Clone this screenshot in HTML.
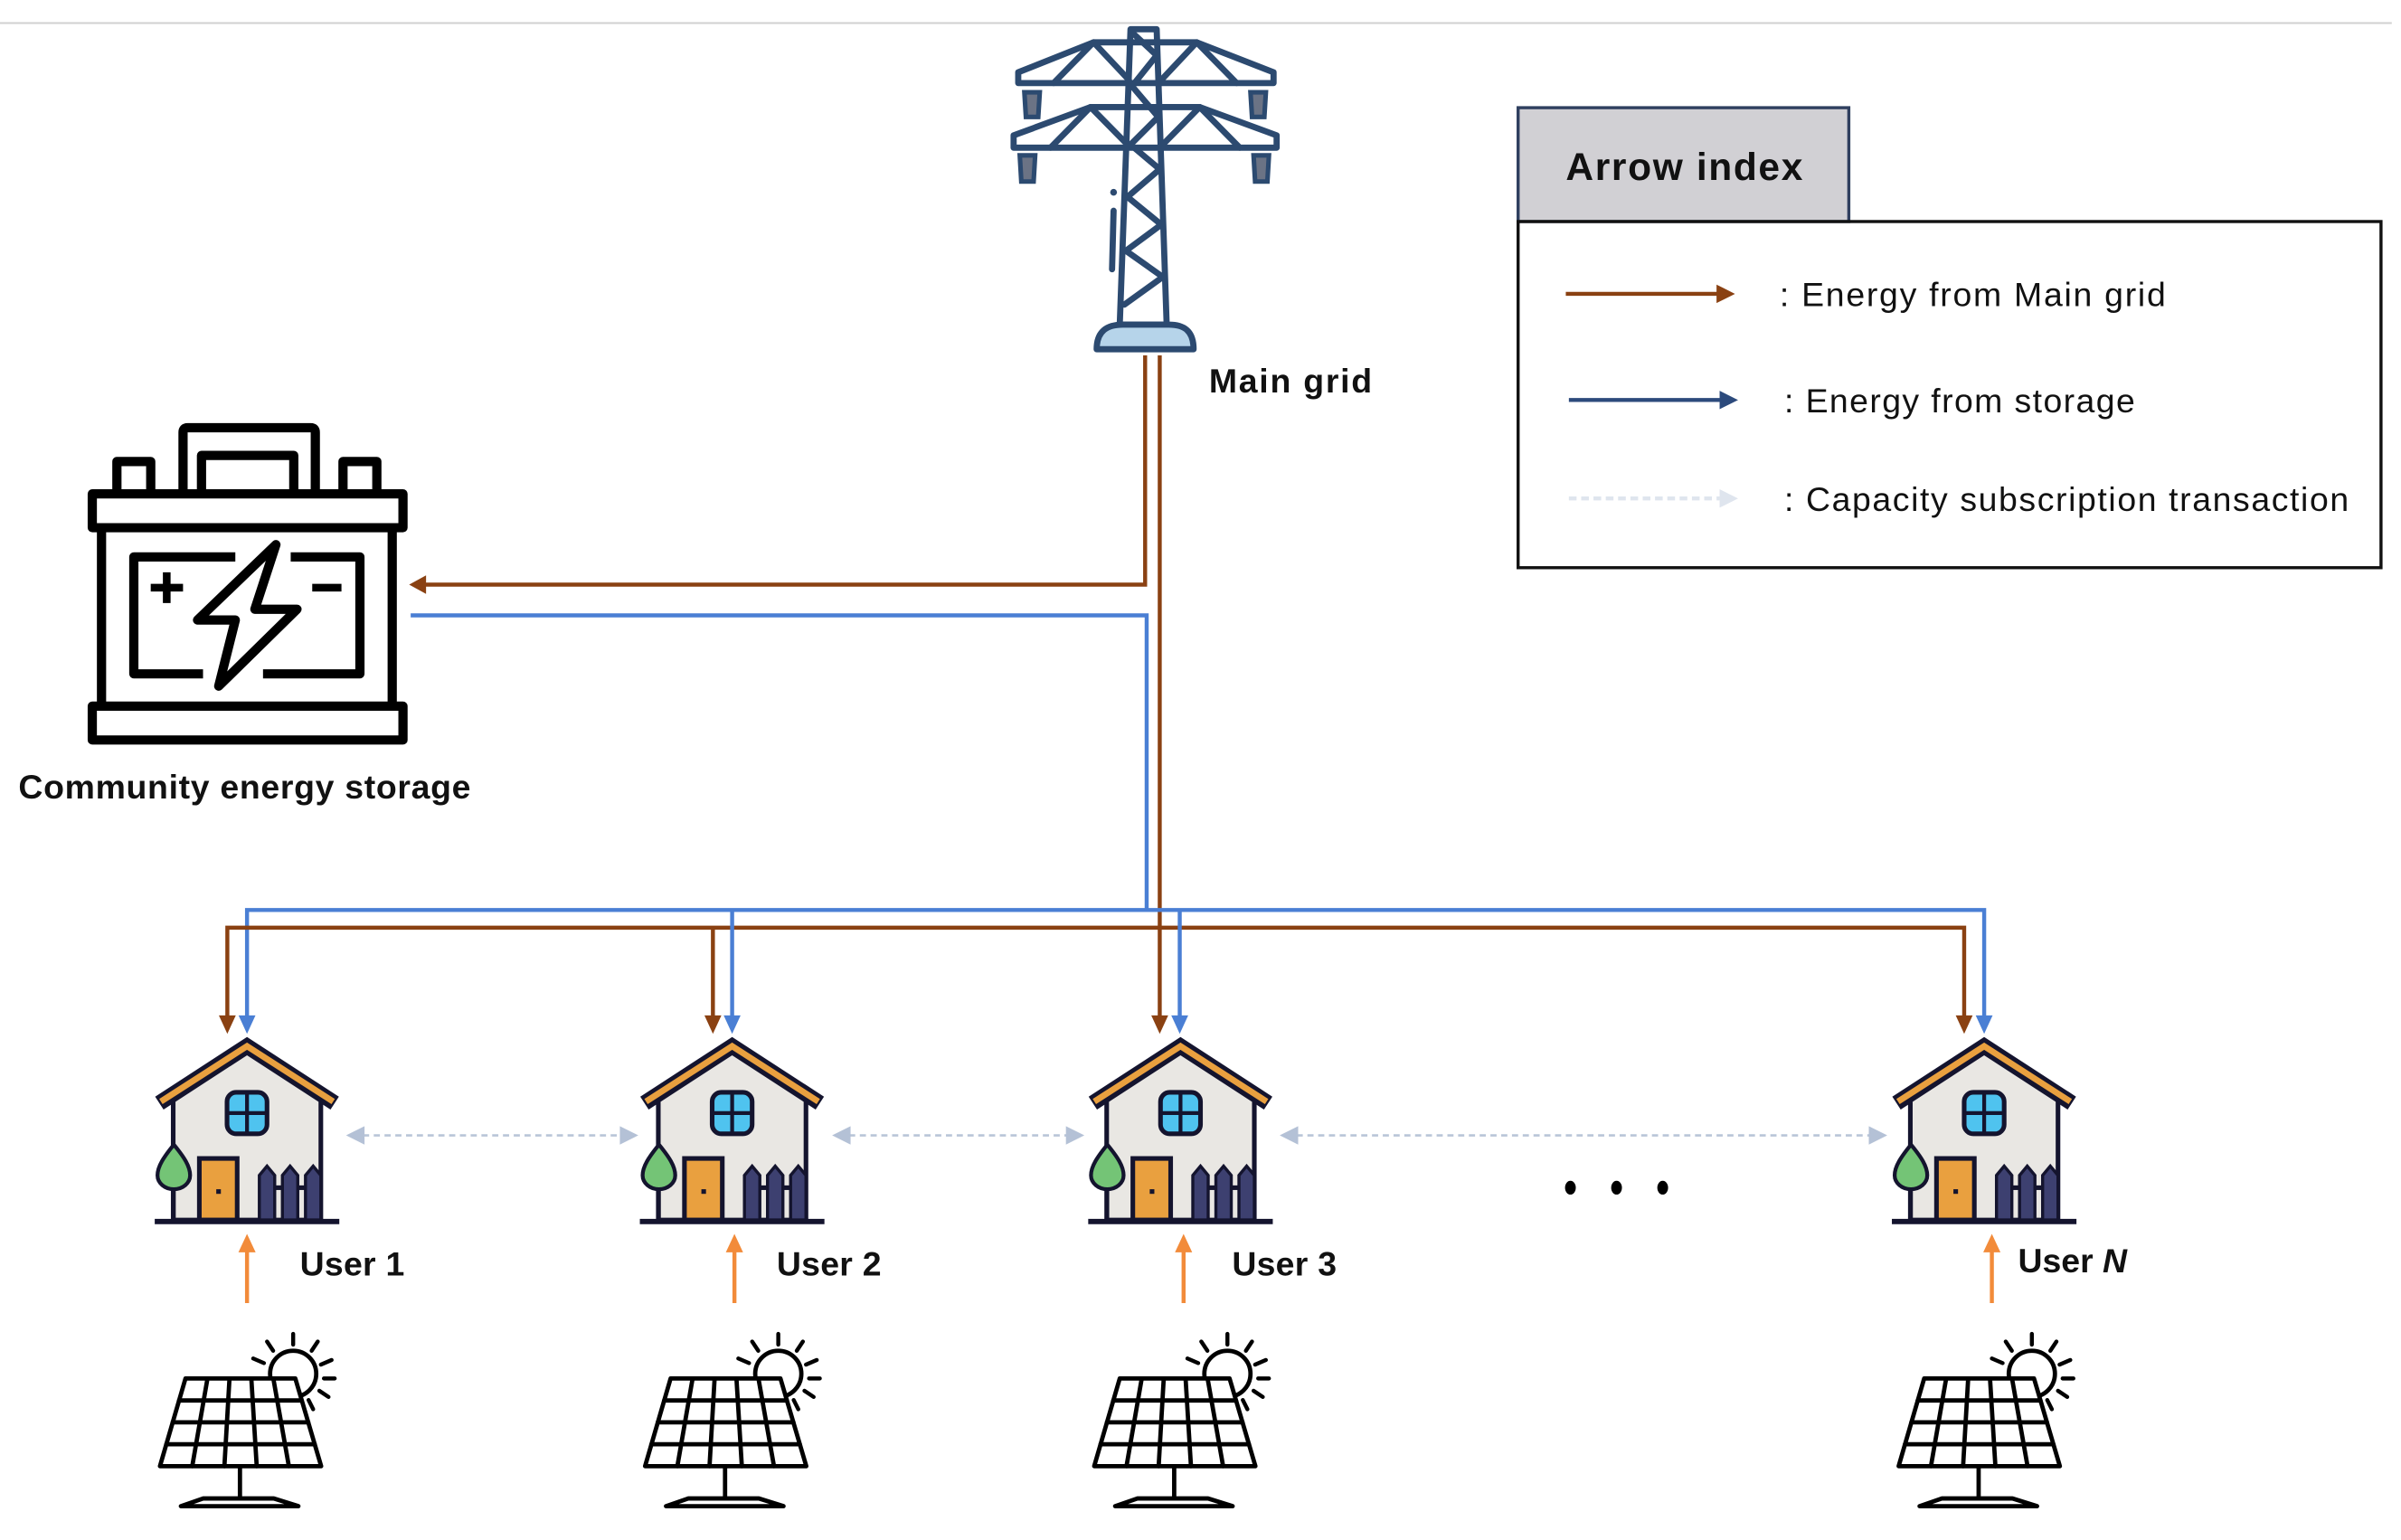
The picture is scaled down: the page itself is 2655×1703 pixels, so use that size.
<!DOCTYPE html>
<html><head><meta charset="utf-8"><style>
html,body{margin:0;padding:0;background:#fff;}
svg{display:block;}
text{font-family:"Liberation Sans",sans-serif;fill:#111;}
</style></head><body>
<svg width="2655" height="1703" viewBox="0 0 1561 1001" preserveAspectRatio="none" xmlns="http://www.w3.org/2000/svg">
<defs>
<g id="house">
  <polygon points="-48,709 0,680 48,709 48,793 -48,793" fill="#e9e7e3" stroke="#14142e" stroke-width="3"/>
  <polyline points="-57,717 0,680 57,717" fill="none" stroke="#14142e" stroke-width="10" stroke-linejoin="miter"/>
  <polyline points="-56,716 0,680 56,716" fill="none" stroke="#e9a03f" stroke-width="4"/>
  <rect x="-13" y="710" width="26" height="27" rx="6" fill="#4fc3ef" stroke="#14142e" stroke-width="3"/>
  <line x1="0" y1="710" x2="0" y2="737" stroke="#14142e" stroke-width="2.5"/>
  <line x1="-13" y1="723.5" x2="13" y2="723.5" stroke="#14142e" stroke-width="2.5"/>
  <rect x="-31" y="753" width="24.6" height="40" fill="#e9a03f" stroke="#14142e" stroke-width="3"/>
  <rect x="-20" y="773" width="3" height="3" fill="#14142e"/>
  <line x1="-47.6" y1="765" x2="-47.6" y2="793" stroke="#14142e" stroke-width="2.5"/>
  <path d="M -47.6 744 C -41 752, -37 758, -37 764 A 10.6 9 0 0 1 -58.2 764 C -58.2 758, -54 752, -47.6 744 Z" fill="#74c476" stroke="#14142e" stroke-width="2.5"/>
  <g fill="#3d4070" stroke="#14142e" stroke-width="2">
    <path d="M 8 793 V 764 L 13 758 L 18 764 V 793 Z"/>
    <path d="M 23 793 V 764 L 28 758 L 33 764 V 793 Z"/>
    <path d="M 38 793 V 764 L 43 758 L 48 764 V 793 Z"/>
  </g>
  <line x1="18" y1="772" x2="23" y2="772" stroke="#14142e" stroke-width="3"/>
  <line x1="33" y1="772" x2="38" y2="772" stroke="#14142e" stroke-width="3"/>
  <line x1="-60" y1="794" x2="60" y2="794" stroke="#14142e" stroke-width="3.5"/>
</g>
<g id="solar" stroke="#000" stroke-width="2.8" fill="none" stroke-linecap="round">
  <circle cx="30" cy="893" r="15" fill="#fff"/>
  <g stroke-width="2.6">
    <line x1="11" y1="886" x2="4" y2="883"/>
    <line x1="17" y1="878" x2="13" y2="872"/>
    <line x1="30" y1="874" x2="30" y2="867"/>
    <line x1="42" y1="878" x2="46" y2="872"/>
    <line x1="48" y1="887" x2="55" y2="884"/>
    <line x1="50" y1="896" x2="57" y2="896"/>
    <line x1="47" y1="904" x2="53" y2="908"/>
    <line x1="40" y1="910" x2="43" y2="916"/>
  </g>
  <polygon points="-40,896 31.4,896 48.2,953 -56.6,953" fill="#fff" stroke-linejoin="round"/>
  <line x1="-44.2" y1="910.3" x2="35.6" y2="910.3"/>
  <line x1="-48.3" y1="924.5" x2="39.8" y2="924.5"/>
  <line x1="-52.5" y1="938.8" x2="44" y2="938.8"/>
  <line x1="-25.7" y1="896" x2="-35.6" y2="953"/>
  <line x1="-11.4" y1="896" x2="-14.7" y2="953"/>
  <line x1="2.8" y1="896" x2="6.3" y2="953"/>
  <line x1="17.1" y1="896" x2="27.2" y2="953"/>
  <line x1="-4.6" y1="953" x2="-4.6" y2="974"/>
  <polygon points="-28.6,974 17.4,974 33.4,979 -43,979" stroke-linejoin="round"/>
</g>
</defs>

<line x1="0" y1="15" x2="1555" y2="15" stroke="#d0d0d0" stroke-width="1.2"/>

<!-- Tower -->
<g stroke="#2c4a70" stroke-width="4" fill="none" stroke-linejoin="round" stroke-linecap="round">
  <polygon points="735,19 752,19 758.5,211 728,211"/>
  <polyline points="662,54 662,47 711,27.5 778,27.5 828,47 828,54 662,54"/>
  <line x1="711" y1="27.5" x2="685" y2="54"/><line x1="711" y1="27.5" x2="734" y2="52"/>
  <line x1="778" y1="27.5" x2="804" y2="54"/><line x1="778" y1="27.5" x2="755" y2="52"/>
  <polyline points="659,96 659,88 709,69.6 780,69.6 830,88 830,96 659,96"/>
  <line x1="709" y1="69.6" x2="683" y2="96"/><line x1="709" y1="69.6" x2="733" y2="94"/>
  <line x1="780" y1="69.6" x2="806" y2="96"/><line x1="780" y1="69.6" x2="756" y2="94"/>
  <polyline points="737,22 752,36 736,56 753,76 735,94 754,110 733,128 755,146 732,163 756,180 731,198"/>
  <line x1="724" y1="137" x2="723" y2="175"/>
</g>
<circle cx="724" cy="125" r="2.2" fill="#2c4a70"/>
<g fill="#6b7385" stroke="#2c4a70" stroke-width="3">
  <path d="M666 60 H676 L675 76 H667 Z"/><path d="M813 60 H823 L822 76 H814 Z"/>
  <path d="M663 101 H673 L672 118 H664 Z"/><path d="M815 101 H825 L824 118 H816 Z"/>
</g>
<path d="M713 227 C713 215, 720 211, 730 211 H760 C770 211, 776 215, 776 227 Z" fill="#b6d4ea" stroke="#2c4a70" stroke-width="4" stroke-linejoin="round"/>
<text x="786" y="255" font-size="22" font-weight="bold" textLength="106">Main grid</text>

<!-- Battery -->
<g stroke="#000" stroke-width="6" fill="none" stroke-linejoin="round">
  <path d="M119 318 V281 Q119 278 122 278 H202 Q205 278 205 281 V318"/>
  <path d="M131 318 V296 H191 V318"/>
  <path d="M76 318 V300 H98 V318"/>
  <path d="M223 318 V300 H245 V318"/>
  <rect x="60" y="321" width="202" height="22"/>
  <line x1="66" y1="343" x2="66" y2="458"/><line x1="255" y1="343" x2="255" y2="458"/>
  <rect x="60" y="459" width="202" height="22"/>
  <polyline points="153,362 87,362 87,438 132,438"/>
  <polyline points="189,362 234,362 234,438 171,438"/>
  <polygon points="179.4,354 128.4,403 153,403 142.2,446 193.1,396 165.7,396"/>
</g>
<g stroke="#000" stroke-width="5">
  <line x1="98" y1="382" x2="119" y2="382"/><line x1="108.4" y1="372" x2="108.4" y2="392"/>
  <line x1="203" y1="382" x2="222" y2="382"/>
</g>
<text x="12" y="519" font-size="22" font-weight="bold" textLength="294">Community energy storage</text>

<!-- Connectors -->
<g fill="none" stroke-width="2.6">
  <polyline points="744.5,231 744.5,380 276,380" stroke="#8a4112"/>
  <polyline points="267,400 745.5,400 745.5,591" stroke="#4a7fd4"/>
  <line x1="754" y1="231" x2="754" y2="662" stroke="#8a4112"/>
  <polyline points="160.6,662 160.6,591.5 1290,591.5 1290,662" stroke="#4a7fd4"/>
  <polyline points="147.8,662 147.8,603 1277,603 1277,662" stroke="#8a4112"/>
  <line x1="463.5" y1="603" x2="463.5" y2="662" stroke="#8a4112"/>
  <line x1="476" y1="591.5" x2="476" y2="662" stroke="#4a7fd4"/>
  <line x1="767" y1="591.5" x2="767" y2="662" stroke="#4a7fd4"/>
</g>
<polygon points="266,380 277,374 277,386" fill="#8a4112"/>
<g fill="#8a4112">
  <polygon points="147.8,672 142.3,660 153.3,660"/><polygon points="463.5,672 458,660 469,660"/>
  <polygon points="754,672 748.5,660 759.5,660"/><polygon points="1277,672 1271.5,660 1282.5,660"/>
</g>
<g fill="#4a7fd4">
  <polygon points="160.6,672 155.1,660 166.1,660"/><polygon points="476,672 470.5,660 481.5,660"/>
  <polygon points="767,672 761.5,660 772.5,660"/><polygon points="1290,672 1284.5,660 1295.5,660"/>
</g>

<!-- Houses -->
<use href="#house" transform="translate(160.6,0)"/>
<use href="#house" transform="translate(476,0)"/>
<use href="#house" transform="translate(767.5,0)"/>
<use href="#house" transform="translate(1290,0)"/>

<!-- Dashed arrows -->
<g stroke="#b9c5d8" stroke-width="1.6" stroke-dasharray="4,3">
  <line x1="236" y1="738" x2="404" y2="738"/>
  <line x1="552" y1="738" x2="694" y2="738"/>
  <line x1="843" y1="738" x2="1216" y2="738"/>
</g>
<g fill="#b4c1d6">
  <polygon points="225,738 237,732 237,744"/><polygon points="415,738 403,732 403,744"/>
  <polygon points="541,738 553,732 553,744"/><polygon points="705,738 693,732 693,744"/>
  <polygon points="832,738 844,732 844,744"/><polygon points="1227,738 1215,732 1215,744"/>
</g>
<g fill="#000"><ellipse cx="1021" cy="772" rx="3.5" ry="4.5"/><ellipse cx="1051" cy="772" rx="3.5" ry="4.5"/><ellipse cx="1081" cy="772" rx="3.5" ry="4.5"/></g>

<!-- Orange arrows -->
<g stroke="#f28b3a" stroke-width="2.6">
  <line x1="160.6" y1="847" x2="160.6" y2="810"/><line x1="477.5" y1="847" x2="477.5" y2="810"/>
  <line x1="769.5" y1="847" x2="769.5" y2="810"/><line x1="1295" y1="847" x2="1295" y2="810"/>
</g>
<g fill="#f28b3a">
  <polygon points="160.6,802 155,814 166.2,814"/><polygon points="477.5,802 471.9,814 483.1,814"/>
  <polygon points="769.5,802 763.9,814 775.1,814"/><polygon points="1295,802 1289.4,814 1300.6,814"/>
</g>
<text x="195" y="829" font-size="22" font-weight="bold" textLength="68">User 1</text>
<text x="505" y="829" font-size="22" font-weight="bold" textLength="68">User 2</text>
<text x="801" y="829" font-size="22" font-weight="bold" textLength="68">User 3</text>
<text x="1312" y="827" font-size="22" font-weight="bold">User <tspan font-style="italic">N</tspan></text>

<!-- Solar -->
<use href="#solar" transform="translate(160.6,0)"/>
<use href="#solar" transform="translate(476,0)"/>
<use href="#solar" transform="translate(768,0)"/>
<use href="#solar" transform="translate(1291,0)"/>

<!-- Legend -->
<rect x="987" y="70" width="215" height="74" fill="#d1d0d4" stroke="#2f3f5f" stroke-width="2"/>
<text x="1018" y="117" font-size="25" font-weight="bold" textLength="154">Arrow index</text>
<rect x="987" y="144" width="561" height="225" fill="none" stroke="#111" stroke-width="2"/>
<line x1="1018" y1="191" x2="1118" y2="191" stroke="#8a4112" stroke-width="2.6"/>
<polygon points="1128,191 1116,185 1116,197" fill="#8a4112"/>
<text x="1157" y="199" font-size="22" textLength="251">: Energy from Main grid</text>
<line x1="1020" y1="260" x2="1120" y2="260" stroke="#2c4a7c" stroke-width="2.6"/>
<polygon points="1130,260 1118,254 1118,266" fill="#2c4a7c"/>
<text x="1160" y="268" font-size="22" textLength="228">: Energy from storage</text>
<line x1="1020" y1="324" x2="1118" y2="324" stroke="#dfe5ee" stroke-width="2.6" stroke-dasharray="5,3"/>
<polygon points="1130,324 1118,318 1118,330" fill="#dfe5ee"/>
<text x="1160" y="332" font-size="22" textLength="367">: Capacity subscription transaction</text>
</svg>
</body></html>
